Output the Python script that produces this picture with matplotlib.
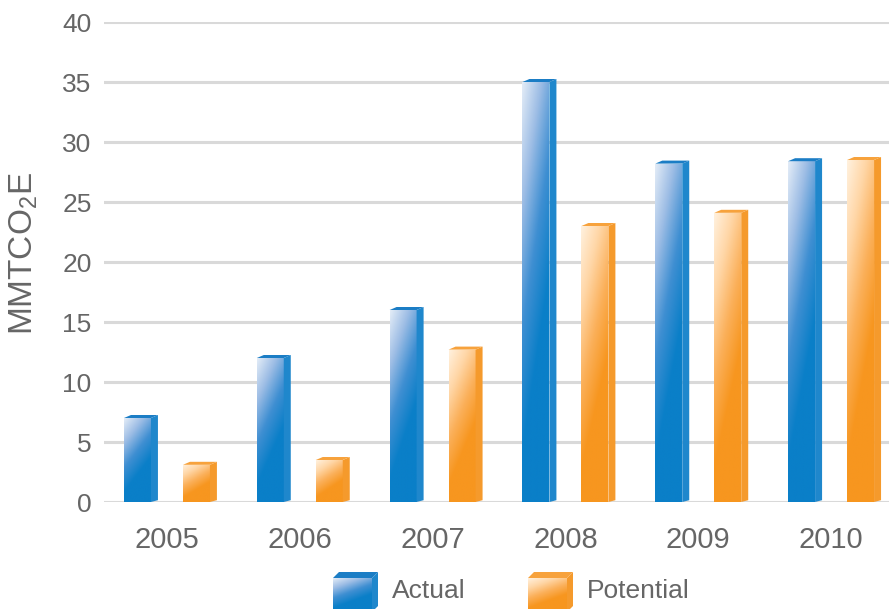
import numpy as np
import matplotlib
matplotlib.use('Agg')
import matplotlib.pyplot as plt
from matplotlib.colors import LinearSegmentedColormap
from matplotlib.patches import Polygon, Rectangle

# Data (MMTCO2E)
years = ['2005', '2006', '2007', '2008', '2009', '2010']
actual = [7.0, 12.0, 16.0, 35.0, 28.2, 28.4]
potential = [3.1, 3.5, 12.7, 23.0, 24.1, 28.5]
series_names = ['Actual', 'Potential']

plt.rcParams['font.family'] = ['Liberation Sans', 'DejaVu Sans']
plt.rcParams['mathtext.fontset'] = 'custom'
plt.rcParams['mathtext.rm'] = 'Liberation Sans'

text_col = '#666666'
grid_col = '#d9d9d9'

# front / side / top colours for each series
blue_front = LinearSegmentedColormap.from_list('bf', ['#e3ecf7', '#9dbde5', '#3f8fd2', '#0a7fc8', '#0a7fc8'])
orange_front = LinearSegmentedColormap.from_list('of', ['#fff1de', '#ffd6a6', '#fbb05a', '#f7961f', '#f7961f'])
styles = {
    'Actual': dict(cmap=blue_front, side='#1f87cc', top='#1b7dc5'),
    'Potential': dict(cmap=orange_front, side='#f59a2c', top='#f7a23c'),
}

# relative gradient: light at top-left, dark at bottom-right
yy, xx = np.mgrid[0:1:200j, 0:1:40j]
grad = np.clip((yy) * 0.85 + xx * 0.35, 0, 1)  # row 0 = bottom with origin='lower'
grad = np.clip((1 - yy) * 0.85 + xx * 0.35, 0, 1)

fig = plt.figure(figsize=(8.89, 6.09), dpi=100)
ax = fig.add_axes([104 / 889, (609 - 502) / 609, 1 - 104 / 889, (502 - 22) / 609])

x = np.arange(len(years))
width = 0.203
offset = 0.222
dx = 7 / 133
dy = 3 / 12


def draw_bar(xc, h, st):
    x0, x1 = xc - width / 2, xc + width / 2
    front = Rectangle((x0, 0), width, h, transform=ax.transData)
    im = ax.imshow(grad, cmap=st['cmap'], extent=[x0, x1, 0, h], origin='lower',
                   aspect='auto', zorder=3, interpolation='bilinear')
    im.set_clip_path(front)
    ax.add_patch(Polygon([(x1, 0), (x1 + dx, dy * 0.6), (x1 + dx, h + dy), (x1, h)],
                         closed=True, facecolor=st['side'], edgecolor='none', zorder=3))
    ax.add_patch(Polygon([(x0, h), (x0 + dx, h + dy), (x1 + dx, h + dy), (x1, h)],
                         closed=True, facecolor=st['top'], edgecolor='none', zorder=3))


for i in range(len(years)):
    draw_bar(x[i] - offset, actual[i], styles['Actual'])
    draw_bar(x[i] + offset, potential[i], styles['Potential'])

ax.set_xlim(-0.474, 5.436)
ax.set_ylim(0, 40)
ax.set_yticks(np.arange(0, 41, 5))
ax.set_xticks(x)
ax.set_xticklabels(years)
ax.grid(axis='y', color=grid_col, linewidth=2.2, zorder=0)
ax.set_axisbelow(True)
for s in ax.spines.values():
    s.set_visible(False)
ax.tick_params(axis='x', length=0, pad=17, labelsize=21, labelcolor=text_col)
ax.tick_params(axis='y', length=0, pad=9, labelsize=19, labelcolor=text_col)

fig.text(24 / 889, (609 - 253) / 609, 'MMTCO$_2$E', rotation=90, ha='center', va='center',
         fontsize=24, color=text_col)

# legend with cube icons, drawn in pixel coordinates
lax = fig.add_axes([0, 0, 1, 1], zorder=5)
lax.set_xlim(0, 889)
lax.set_ylim(609, 0)
lax.axis('off')
lax.patch.set_alpha(0)

legend_pos = {'Actual': 333, 'Potential': 528}
for name in series_names:
    st = styles[name]
    lx = legend_pos[name]
    fw, ftop, fbot, d, up = 39, 578, 612, 6, 6
    rect = Rectangle((lx, ftop), fw, fbot - ftop, transform=lax.transData)
    im = lax.imshow(grad[::-1], cmap=st['cmap'], extent=[lx, lx + fw, fbot, ftop],
                    aspect='auto', interpolation='bilinear')
    im.set_clip_path(rect)
    lax.add_patch(Polygon([(lx + fw, fbot), (lx + fw + d, fbot - up), (lx + fw + d, ftop - up), (lx + fw, ftop)],
                          closed=True, facecolor=st['side'], edgecolor='none'))
    lax.add_patch(Polygon([(lx, ftop), (lx + d, ftop - up), (lx + fw + d, ftop - up), (lx + fw, ftop)],
                          closed=True, facecolor=st['top'], edgecolor='none'))
    lax.text(lx + fw + 20, 591, name, ha='left', va='center', fontsize=19, color=text_col)
lax.set_xlim(0, 889)
lax.set_ylim(609, 0)

fig.savefig('out.png', dpi=100)
